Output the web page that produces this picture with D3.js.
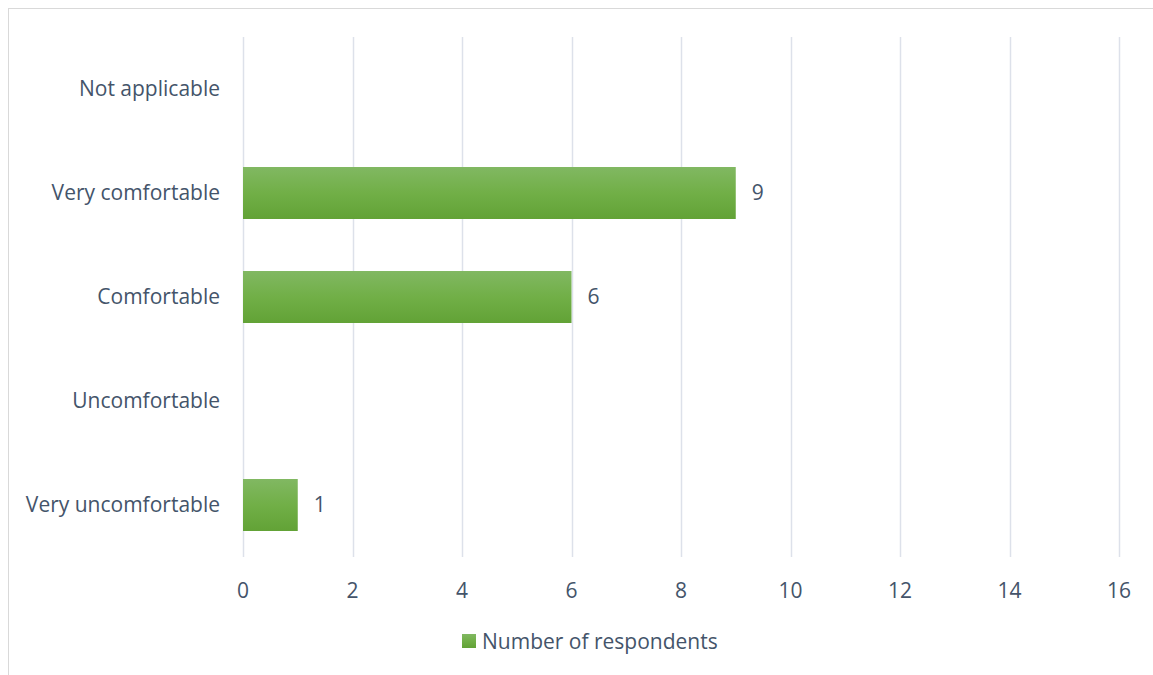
<!DOCTYPE html>
<html><head><meta charset="utf-8">
<script src="https://cdn.jsdelivr.net/npm/d3@7"></script>
<style>body{margin:0;background:#fff;}svg{display:block;font-family:"Open Sans","Noto Sans",sans-serif;}</style>
</head><body>
<svg id="c" width="1153" height="675"></svg>
<script>
const categories = ["Not applicable","Very comfortable","Comfortable","Uncomfortable","Very uncomfortable"];
const values = [0, 9, 6, 0, 1];
const xTicks = [0,2,4,6,8,10,12,14,16];
const seriesName = "Number of respondents";

(function(){
const svg = d3.select("#c");
const textColor = "#44546a";
const fs = 21;
svg.append("rect").attr("x",8.5).attr("y",8.5).attr("width",1160).attr("height",680)
  .attr("fill","none").attr("stroke","#d9d9d9").attr("stroke-width",1);

const defs = svg.append("defs");
const g1 = defs.append("linearGradient").attr("id","bg").attr("x1",0).attr("y1",0).attr("x2",0).attr("y2",1);
g1.append("stop").attr("offset","0%").attr("stop-color","#81b862");
g1.append("stop").attr("offset","50%").attr("stop-color","#71af47");
g1.append("stop").attr("offset","100%").attr("stop-color","#62a236");

const pL = 243, pR = 1119, pT = 37, pB = 557;
const x = d3.scaleLinear().domain([0,16]).range([pL,pR]);
const y = d3.scaleBand().domain(categories).range([pT,pB]).paddingInner(0.5).paddingOuter(0.25);

svg.append("g").selectAll("line").data(xTicks).join("line")
  .attr("x1",d=>Math.round(x(d))+0.5).attr("x2",d=>Math.round(x(d))+0.5)
  .attr("y1",pT).attr("y2",pB).attr("stroke","#dde1ea").attr("stroke-width",1.5);

svg.append("g").selectAll("text").data(xTicks).join("text")
  .attr("x",d=>x(d)).attr("y",598).attr("text-anchor","middle")
  .attr("fill",textColor).attr("font-size",fs).text(d=>d);

svg.append("g").selectAll("text").data(categories).join("text")
  .attr("x",220).attr("y",d=>y(d)+y.bandwidth()/2+7).attr("text-anchor","end")
  .attr("fill",textColor).attr("font-size",fs).text(d=>d);

const data = categories.map((c,i)=>({c,v:values[i]}));
svg.append("g").selectAll("rect").data(data.filter(d=>d.v>0)).join("rect")
  .attr("x",x(0)).attr("y",d=>y(d.c)).attr("width",d=>x(d.v)-x(0)).attr("height",y.bandwidth())
  .attr("fill","url(#bg)");

svg.append("g").selectAll("text").data(data.filter(d=>d.v>0)).join("text")
  .attr("x",d=>x(d.v)+16).attr("y",d=>y(d.c)+y.bandwidth()/2+7)
  .attr("fill",textColor).attr("font-size",fs).text(d=>d.v);

const lg = svg.append("g");
lg.append("rect").attr("x",462).attr("y",634).attr("width",14).attr("height",14).attr("fill","url(#bg)");
lg.append("text").attr("x",482).attr("y",649).attr("fill",textColor).attr("font-size",fs).text(seriesName);
})();
</script>
</body></html>
